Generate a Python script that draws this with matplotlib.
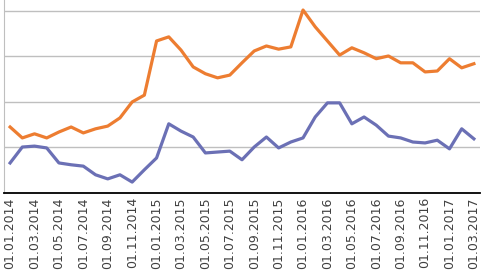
import numpy as np
import pandas as pd
import matplotlib
matplotlib.use('Agg')
import matplotlib.pyplot as plt

# monthly values, Jan 2014 .. Mar 2017
dates = pd.date_range('2014-01-01', '2017-03-01', freq='MS')
orange = [14.5, 12.1, 13.0, 12.1, 13.4, 14.5, 13.2, 14.1, 14.7, 16.5,
          20.0, 21.5, 33.4, 34.3, 31.4, 27.7, 26.2, 25.3, 25.9, 28.6,
          31.2, 32.3, 31.6, 32.1, 40.2, 36.5, 33.4, 30.3, 31.9, 30.8,
          29.5, 30.1, 28.6, 28.6, 26.6, 26.8, 29.5, 27.5, 28.4]
blue = [6.6, 10.1, 10.3, 9.9, 6.6, 6.2, 5.9, 4.0, 3.1, 4.0,
        2.4, 5.1, 7.7, 15.2, 13.6, 12.3, 8.8, 9.0, 9.2, 7.3,
        10.1, 12.3, 9.9, 11.2, 12.1, 16.7, 19.8, 19.8, 15.2, 16.7,
        14.9, 12.5, 12.1, 11.2, 11.0, 11.6, 9.7, 14.1, 11.9]
labels = [d.strftime('%d.%m.%Y') for d in dates]

fig = plt.figure(figsize=(4.85, 2.79), dpi=100)
ax = fig.add_axes([4/485, 1 - 193/279, 476/485, 193/279])

x = np.arange(len(dates))
ax.plot(x, orange, color='#ED7D31', lw=2.3, solid_joinstyle='round')
ax.plot(x, blue, color='#6B70B5', lw=2.3, solid_joinstyle='round')

ax.set_xlim(-0.5, len(dates) - 0.5)
ax.set_ylim(0, 42.4)
ax.set_yticks([10, 20, 30, 40])
ax.set_yticklabels([])
ax.yaxis.grid(True, color='#BFBFBF', lw=1)
ax.set_axisbelow(True)
ax.tick_params(axis='y', length=0)

ax.set_xticks(x[::2])
ax.set_xticklabels(labels[::2], rotation=90, fontsize=9, color='#404040')
ax.tick_params(axis='x', length=0, pad=3)

for s in ['top', 'right']:
    ax.spines[s].set_visible(False)
ax.spines['left'].set_color('#BFBFBF')
ax.spines['bottom'].set_color('black')
ax.spines['bottom'].set_linewidth(1.3)

fig.savefig('out.png', dpi=100)
